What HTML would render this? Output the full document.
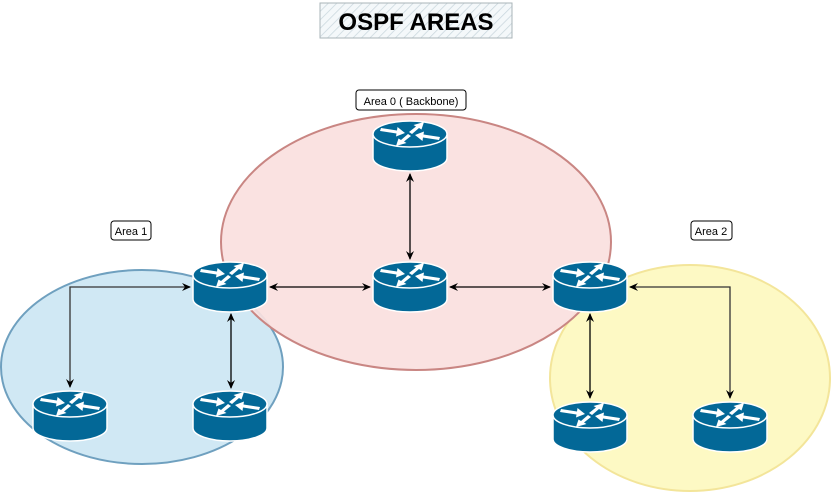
<!DOCTYPE html>
<html><head><meta charset="utf-8"><style>
html,body{margin:0;padding:0;background:#fff;}
svg{display:block;}
text{font-family:"Liberation Sans",sans-serif;}
</style></head><body>
<svg width="832" height="492" viewBox="0 0 832 492" xmlns="http://www.w3.org/2000/svg">
<defs>
<pattern id="hatch" width="6" height="6" patternUnits="userSpaceOnUse" patternTransform="rotate(45)">
<rect width="6" height="6" fill="#f4f8fa"/>
<line x1="0" y1="0" x2="0" y2="6" stroke="#c9d6dd" stroke-width="1.5"/>
</pattern>
<marker id="ah" markerWidth="10" markerHeight="10" refX="8" refY="5" orient="auto-start-reverse" markerUnits="userSpaceOnUse">
<path d="M0,1 L9,5 L0,9 L3,5 Z" fill="#000"/>
</marker>
<g id="r">
<path d="M1,14 L1,38 A37,13 0 0 0 75,38 L75,14 Z" fill="#036897" stroke="#fff" stroke-width="1.5"/>
<ellipse cx="38" cy="14" rx="37" ry="13" fill="#036897" stroke="#fff" stroke-width="1.5"/>
<g fill="#fff">
<path d="M9,8 L25,10.5 L25.5,7 L33,13 L24,16.5 L24.5,13.5 L8,11 Z"/>
<path d="M67,20 L51,17.5 L50.5,21 L43,15 L52,11.5 L51.5,14.5 L68,17 Z"/>
<path d="M37,12 L44,6.5 L41.5,5 L52,2 L49.5,9.5 L47,8 L40,14 Z"/>
<path d="M39,16 L32,21.5 L34.5,23 L24,26 L26.5,18.5 L29,20 L36,14 Z"/>
</g>
</g>
</defs>
<ellipse cx="142" cy="367" rx="141" ry="97" fill="#d0e8f4" stroke="#6fa0bf" stroke-width="2"/>
<ellipse cx="690" cy="378" rx="140" ry="113" fill="#fdf9c4" stroke="#f3e59a" stroke-width="2"/>
<ellipse cx="416" cy="242" rx="195" ry="128" fill="#fadfde" fill-opacity="0.92" stroke="#c98683" stroke-width="2"/>
<rect x="320" y="3" width="192" height="35" fill="url(#hatch)" stroke="#aab4b8" stroke-width="1"/>
<text x="416" y="30" text-anchor="middle" font-size="24" font-weight="bold">OSPF AREAS</text>
<rect x="356" y="90" width="110" height="20" rx="3" fill="#fff" stroke="#000" stroke-width="1"/>
<text x="411" y="105" text-anchor="middle" font-size="11">Area 0 ( Backbone)</text>
<rect x="111" y="221" width="40" height="19" rx="3" fill="#fff" stroke="#000" stroke-width="1"/>
<text x="131" y="235" text-anchor="middle" font-size="11">Area 1</text>
<rect x="691" y="221" width="41" height="19" rx="3" fill="#fff" stroke="#000" stroke-width="1"/>
<text x="711" y="235" text-anchor="middle" font-size="11">Area 2</text>
<g stroke="#000" stroke-width="1.3" fill="none">
<line x1="410" y1="174" x2="410" y2="259" marker-start="url(#ah)" marker-end="url(#ah)"/>
<line x1="270" y1="287" x2="370" y2="287" marker-start="url(#ah)" marker-end="url(#ah)"/>
<line x1="450" y1="287" x2="550" y2="287" marker-start="url(#ah)" marker-end="url(#ah)"/>
<polyline points="70,387 70,287 190,287" marker-start="url(#ah)" marker-end="url(#ah)" stroke="#333"/>
<line x1="231" y1="314" x2="231" y2="388" marker-start="url(#ah)" marker-end="url(#ah)"/>
<line x1="590" y1="314" x2="590" y2="398" marker-start="url(#ah)" marker-end="url(#ah)"/>
<polyline points="630,287 730,287 730,398" marker-start="url(#ah)" marker-end="url(#ah)" stroke="#333"/>
</g>
<use href="#r" x="372" y="120"/>
<use href="#r" x="372" y="261"/>
<use href="#r" x="192" y="261"/>
<use href="#r" x="552" y="261"/>
<use href="#r" x="32" y="390"/>
<use href="#r" x="192" y="390"/>
<use href="#r" x="552" y="401"/>
<use href="#r" x="692" y="401"/>
</svg>
</body></html>
